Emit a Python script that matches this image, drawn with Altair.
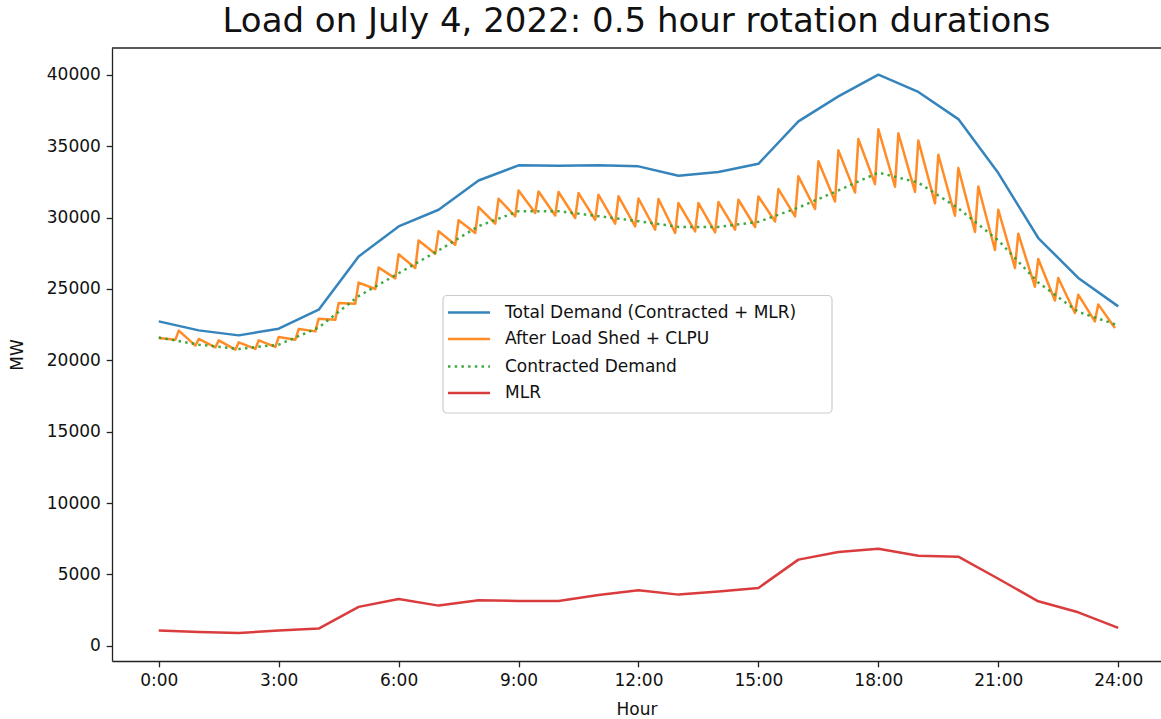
import altair as alt
import pandas as pd

# ---------------- data ----------------
hours = list(range(25))
total_demand = [22730, 22100, 21750, 22220, 23550, 27280, 29380, 30550, 32600, 33660,
                33640, 33660, 33590, 32930, 33190, 33770, 36740, 38490, 40010, 38800,
                36900, 33120, 28570, 25770, 23780]
contracted = [21600, 21100, 20800, 21100, 22300, 24500, 26100, 27700, 29400, 30450,
              30450, 30100, 29750, 29350, 29350, 29700, 30700, 31900, 33150, 32450,
              30650, 28400, 25450, 23400, 22450]
mlr = [1070, 980, 910, 1070, 1210, 2730, 3290, 2820, 3190, 3150,
       3150, 3570, 3890, 3590, 3800, 4060, 6040, 6580, 6810, 6320,
       6250, 4700, 3120, 2350, 1260]

# After load shed + CLPU: value just before each half-hour rotation and the spike at it
rotation_hours = [k / 2 for k in range(1, 48)]
shed_trough = [21450, 21030, 20910, 20750, 20800, 20940, 21450, 22030, 22850, 23970,
               25000, 25740, 26470, 27470, 28100, 28920, 29570, 30080, 30320, 30150,
               29970, 29850, 29570, 29380, 29150, 28920, 29030, 28960, 29150, 29340,
               29730, 30080, 30600, 31130, 31760, 32350, 32160, 31800, 31000, 30130,
               29000, 27730, 26470, 25160, 24190, 23320, 22730]
shed_peak = [22080, 21500, 21400, 21260, 21400, 21640, 22200, 22920, 24020, 25450,
             26500, 27430, 28400, 29050, 29820, 30740, 31320, 31900, 31830, 31790,
             31720, 31600, 31490, 31340, 31300, 31020, 31020, 31090, 31250, 31480,
             32000, 32890, 33940, 34710, 35500, 36180, 35900, 35400, 34400, 33470,
             32180, 30550, 28870, 27100, 25770, 24600, 23920]
shed_first = 21570          # at 0:00
shed_last = 22270           # at 23:55

series_names = ["Total Demand (Contracted + MLR)", "After Load Shed + CLPU",
                "Contracted Demand", "MLR"]
colors = ["#1f77b4", "#ff7f0e", "#2ca02c", "#d62728"]

# ---------------- table ----------------
rows = []
for h, v in zip(hours, total_demand):
    rows.append({"series": series_names[0], "hour": h, "mw": v})
rows.append({"series": series_names[1], "hour": 0.0, "mw": shed_first})
for t, lo, hi in zip(rotation_hours, shed_trough, shed_peak):
    rows.append({"series": series_names[1], "hour": t - 5 / 60, "mw": lo})
    rows.append({"series": series_names[1], "hour": t, "mw": hi})
rows.append({"series": series_names[1], "hour": 23 + 55 / 60, "mw": shed_last})
for h, v in zip(hours, contracted):
    rows.append({"series": series_names[2], "hour": h, "mw": v})
for h, v in zip(hours, mlr):
    rows.append({"series": series_names[3], "hour": h, "mw": v})
df = pd.DataFrame(rows)

W, H = 1049, 613
FONT = "DejaVu Sans"
FS = 17

axis_style = dict(grid=False, domainColor="#222", domainWidth=1.3, tickColor="#222",
                  tickWidth=1.3, tickSize=5.8, labelPadding=5.8, labelFontSize=FS,
                  labelFont=FONT, labelColor="#111", titleFontSize=FS, titleFont=FONT,
                  titleFontWeight="normal", titleColor="#111", labelFlush=False,
                  labelOverlap=False)

x_enc = alt.X("hour:Q",
              scale=alt.Scale(domain=[-1.17, 25.07], nice=False, zero=False),
              axis=alt.Axis(values=list(range(0, 25, 3)), labelExpr="datum.value + ':00'",
                            title="Hour", titlePadding=13, **axis_style))
y_enc = alt.Y("mw:Q",
              scale=alt.Scale(domain=[-1060, 41880], nice=False, zero=False),
              axis=alt.Axis(values=list(range(0, 40001, 5000)), format="d",
                            title="MW", titlePadding=20, **axis_style))

base = alt.Chart(df).encode(x=x_enc, y=y_enc)

line_layers = []
for name, col in zip(series_names, colors):
    kw = dict(color=col, strokeWidth=2.5, opacity=0.9, strokeJoin="round", clip=True)
    if name == "Contracted Demand":
        kw.update(strokeDash=[2.5, 4.2], strokeCap="butt")
    line_layers.append(base.transform_filter(alt.datum.series == name).mark_line(**kw))

# draw order as in the reference: blue, orange, green, red
one = pd.DataFrame({"a": [0]})
frame_top = alt.Chart(one).mark_rule(color="#222", strokeWidth=1.3).encode(
    x=alt.value(0), x2=alt.value(W), y=alt.value(0))

# legend box
LX0, LX1, LY0, LY1 = 331, 720, 247.5, 365
legend_layers = [
    alt.Chart(one).mark_rect(fill="white", fillOpacity=0.8, stroke="#cccccc",
                             strokeWidth=1.2, cornerRadius=4).encode(
        x=alt.value(LX0), x2=alt.value(LX1), y=alt.value(LY0), y2=alt.value(LY1))
]
row_y = [264.5, 291, 318.5, 345]
for name, col, ry in zip(series_names, colors, row_y):
    kw = dict(color=col, strokeWidth=2.5, opacity=0.9)
    if name == "Contracted Demand":
        kw.update(strokeDash=[2.5, 4.2], strokeCap="butt")
    legend_layers.append(alt.Chart(one).mark_rule(**kw).encode(
        x=alt.value(336), x2=alt.value(378), y=alt.value(ry)))
    legend_layers.append(alt.Chart(one).mark_text(
        text=name, align="left", baseline="middle", font=FONT, fontSize=FS,
        color="#111").encode(x=alt.value(393), y=alt.value(ry)))

chart = alt.layer(*line_layers, frame_top, *legend_layers).properties(
    width=W, height=H,
    title=alt.TitleParams("Load on July 4, 2022: 0.5 hour rotation durations",
                          fontSize=34, font=FONT, fontWeight="normal", color="#111",
                          anchor="middle", offset=12, baseline="alphabetic",
                          frame="group", dy=31),
    autosize=alt.AutoSizeParams(type="none"),
    padding={"left": 112, "top": 48, "right": 0, "bottom": 58},
).configure_view(strokeWidth=0)

chart.save("out.html", embed_options={"renderer": "svg", "actions": False})
